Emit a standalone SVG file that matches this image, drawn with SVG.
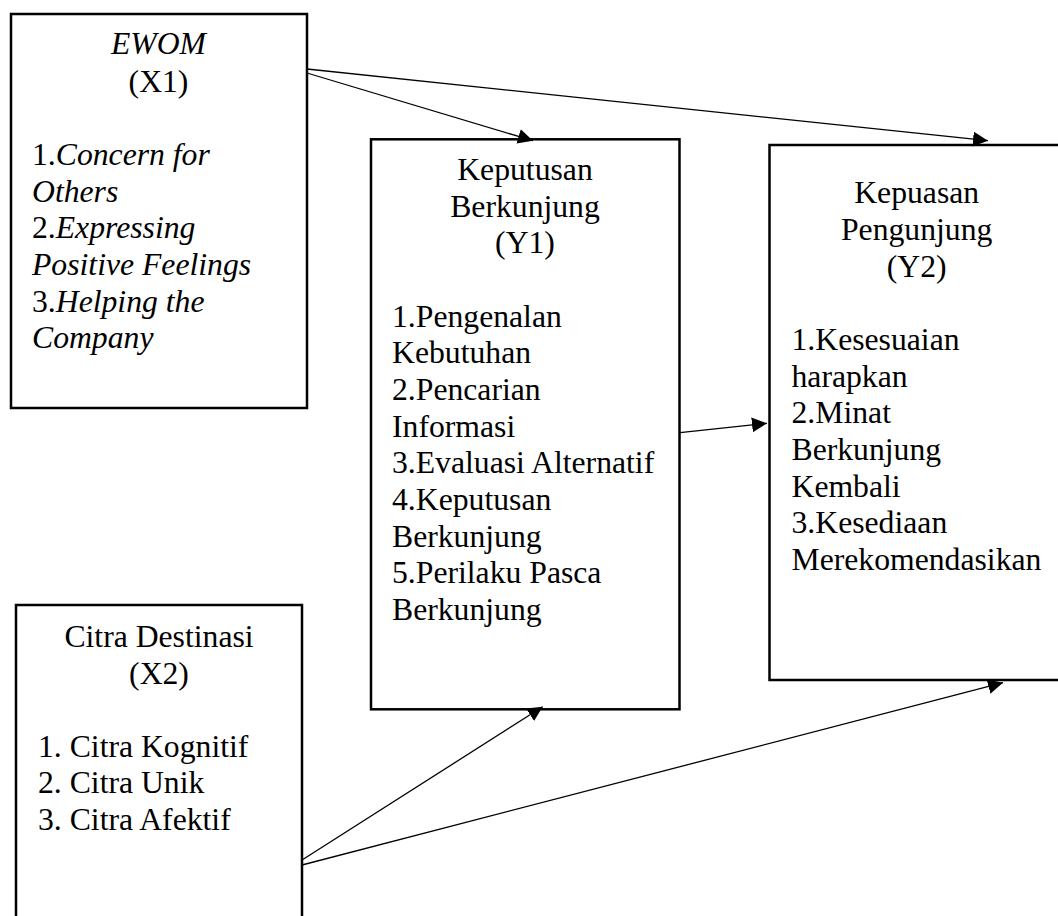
<svg xmlns="http://www.w3.org/2000/svg" width="1058" height="916" viewBox="0 0 1058 916">
<defs>
<marker id="arr" markerUnits="userSpaceOnUse" markerWidth="16" markerHeight="16" refX="15" refY="7.5" orient="auto" viewBox="0 0 16 16">
<path d="M0,0 L15,7.5 L0,15 z" fill="#000"/>
</marker>
<style>
.box{fill:#fff;stroke:#000;stroke-width:2.5}
.t{font-family:"Liberation Serif","Times New Roman",serif;font-size:31.7px;fill:#000}
.c{text-anchor:middle}
.i{font-style:italic}
.ln{stroke:#000;stroke-width:1.3;fill:none;marker-end:url(#arr)}
</style>
</defs>
<rect width="1058" height="916" fill="#fff"/>
<g id="x1">
<rect class="box" x="11" y="14" width="296" height="394"/>
<text class="t c i" x="158.5" y="54">EWOM</text>
<text class="t c" x="158.5" y="92">(X1)</text>
<text class="t" x="32" y="165">1.<tspan class="i">Concern for</tspan></text>
<text class="t i" x="32" y="201.7">Others</text>
<text class="t" x="32" y="238.3">2.<tspan class="i">Expressing</tspan></text>
<text class="t i" x="32" y="275">Positive Feelings</text>
<text class="t" x="32" y="311.7">3.<tspan class="i">Helping the</tspan></text>
<text class="t i" x="32" y="348.3">Company</text>
</g>
<g id="x2">
<rect class="box" x="16" y="605" width="286" height="320"/>
<text class="t c" x="159" y="646.7">Citra Destinasi</text>
<text class="t c" x="159" y="684">(X2)</text>
<text class="t" x="38" y="756.7">1. Citra Kognitif</text>
<text class="t" x="38" y="793.3">2. Citra Unik</text>
<text class="t" x="38" y="830">3. Citra Afektif</text>
</g>
<g id="y1">
<rect class="box" x="371" y="139.3" width="308.5" height="570"/>
<text class="t c" x="525" y="180">Keputusan</text>
<text class="t c" x="525" y="216.7">Berkunjung</text>
<text class="t c" x="525" y="253.3">(Y1)</text>
<text class="t" x="392" y="326.7">1.Pengenalan</text>
<text class="t" x="392" y="363.3">Kebutuhan</text>
<text class="t" x="392" y="400">2.Pencarian</text>
<text class="t" x="392" y="436.7">Informasi</text>
<text class="t" x="392" y="473.3">3.Evaluasi Alternatif</text>
<text class="t" x="392" y="510">4.Keputusan</text>
<text class="t" x="392" y="546.7">Berkunjung</text>
<text class="t" x="392" y="583.3">5.Perilaku Pasca</text>
<text class="t" x="392" y="620">Berkunjung</text>
</g>
<g id="y2">
<rect class="box" x="769.5" y="145" width="295" height="535"/>
<text class="t c" x="916.7" y="203.3">Kepuasan</text>
<text class="t c" x="916.7" y="240">Pengunjung</text>
<text class="t c" x="916.7" y="276.7">(Y2)</text>
<text class="t" x="791.5" y="350">1.Kesesuaian</text>
<text class="t" x="791.5" y="386.7">harapkan</text>
<text class="t" x="791.5" y="423.3">2.Minat</text>
<text class="t" x="791.5" y="460">Berkunjung</text>
<text class="t" x="791.5" y="496.7">Kembali</text>
<text class="t" x="791.5" y="533.3">3.Kesediaan</text>
<text class="t" x="791.5" y="570">Merekomendasikan</text>
</g>
<g id="connectors">
<line class="ln" x1="307" y1="73" x2="533" y2="140.7"/>
<line class="ln" x1="307" y1="69" x2="988" y2="140.7"/>
<line class="ln" x1="680" y1="432.7" x2="767" y2="423.3"/>
<line class="ln" x1="302" y1="860" x2="542.7" y2="706.7"/>
<line class="ln" x1="302" y1="865" x2="1003" y2="682.7"/>
</g>
</svg>
